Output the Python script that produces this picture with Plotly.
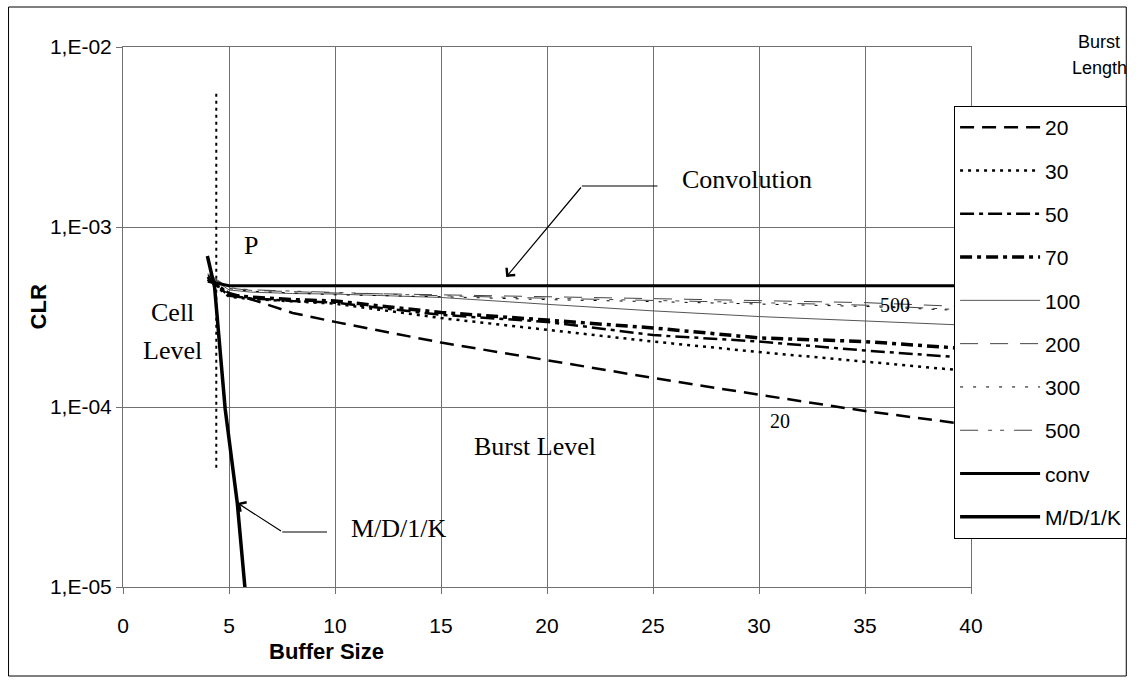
import plotly.graph_objects as go

# ---------------- data ----------------
buffer_size = [4, 5, 6, 8, 10, 15, 20, 25, 30, 35, 40]
clr_20 = [5.1e-4, 4.30e-4, 3.98e-4, 3.33e-4, 2.97e-4, 2.28e-4, 1.82e-4, 1.45e-4, 1.17e-4, 9.5e-5, 7.95e-5]
clr_30 = [5.1e-4, 4.10e-4, 3.98e-4, 3.85e-4, 3.75e-4, 3.12e-4, 2.68e-4, 2.31e-4, 2.02e-4, 1.78e-4, 1.58e-4]
clr_50 = [5.2e-4, 4.15e-4, 4.02e-4, 3.88e-4, 3.80e-4, 3.25e-4, 2.97e-4, 2.51e-4, 2.31e-4, 2.06e-4, 1.87e-4]
clr_70 = [5.3e-4, 4.20e-4, 4.08e-4, 3.95e-4, 3.88e-4, 3.35e-4, 3.04e-4, 2.75e-4, 2.42e-4, 2.31e-4, 2.10e-4]
clr_100 = [5.4e-4, 4.47e-4, 4.35e-4, 4.27e-4, 4.24e-4, 4.06e-4, 3.72e-4, 3.42e-4, 3.18e-4, 3.00e-4, 2.84e-4]
clr_200 = [5.4e-4, 4.58e-4, 4.45e-4, 4.36e-4, 4.30e-4, 4.20e-4, 4.08e-4, 4.00e-4, 3.90e-4, 3.80e-4, 3.60e-4]
clr_300 = [5.4e-4, 4.55e-4, 4.40e-4, 4.28e-4, 4.20e-4, 4.10e-4, 3.95e-4, 3.85e-4, 3.75e-4, 3.62e-4, 3.42e-4]
clr_500 = [5.5e-4, 4.60e-4, 4.48e-4, 4.40e-4, 4.35e-4, 4.15e-4, 4.02e-4, 3.92e-4, 3.80e-4, 3.68e-4, 3.45e-4]
clr_conv = [5.0e-4, 4.72e-4, 4.72e-4, 4.72e-4, 4.72e-4, 4.72e-4, 4.72e-4, 4.72e-4, 4.72e-4, 4.72e-4, 4.72e-4]

mdk_x = [3.98, 4.32, 4.82, 5.39, 5.84]
mdk_clr = [6.9e-4, 4.64e-4, 9.75e-5, 2.93e-5, 7.6e-6]

p_line_x = [4.4, 4.4]
p_line_clr = [5.5e-3, 4.6e-5]

x_ticks = [0, 5, 10, 15, 20, 25, 30, 35, 40]
y_tickvals = [1e-5, 1e-4, 1e-3, 1e-2]
y_ticktext = ["1,E-05", "1,E-04", "1,E-03", "1,E-02"]

series = [
    ("20", clr_20, dict(color="black", width=2.5, dash="14px,8px")),
    ("30", clr_30, dict(color="black", width=2.5, dash="3px,5px")),
    ("50", clr_50, dict(color="black", width=2.5, dash="14px,5px,4px,5px")),
    ("70", clr_70, dict(color="black", width=3.5, dash="12px,5px,4px,5px")),
    ("100", clr_100, dict(color="#555555", width=1)),
    ("200", clr_200, dict(color="#444444", width=1, dash="18px,12px")),
    ("300", clr_300, dict(color="black", width=1, dash="3px,10px")),
    ("500", clr_500, dict(color="#444444", width=1, dash="18px,10px,4px,8px,4px,10px")),
    ("conv", clr_conv, dict(color="black", width=3)),
]

fig = go.Figure()

fig.add_trace(go.Scatter(x=p_line_x, y=p_line_clr, mode="lines", showlegend=False,
                         line=dict(color="black", width=2, dash="3px,4px"), hoverinfo="skip"))

for name, vals, ln in series:
    fig.add_trace(go.Scatter(x=buffer_size, y=vals, mode="lines", name=name,
                             legendgroup=name, line=ln))

fig.add_trace(go.Scatter(x=mdk_x, y=mdk_clr, mode="lines", name="M/D/1/K",
                         legendgroup="mdk", line=dict(color="black", width=3.5)))

# ---------------- layout geometry ----------------
W, H = 1139, 684
L, R, T, B = 123, 975, 47, 587


def px(x):
    return (x - L) / (R - L)


def py(y):
    return (B - y) / (B - T)


serif = "Liberation Serif"
sans = "Liberation Sans"

annotations = []


def text(t, x, y, size=26, family=serif, bold=False, angle=0):
    annotations.append(dict(text=("<b>%s</b>" % t) if bold else t, x=px(x), y=py(y),
                            xref="paper", yref="paper", showarrow=False,
                            xanchor="center", yanchor="middle", textangle=angle,
                            font=dict(family=family, size=size, color="black")))


text("Convolution", 750, 179)
text("P", 252, 245)
text("Cell", 173, 312)
text("Level", 173, 350)
text("Burst Level", 537, 446)
text("M/D/1/K", 400, 528)
text("20", 783, 421, size=20)
text("500", 899, 305, size=20)
text("Burst", 1104, 42, size=18, family=sans)
text("Length", 1104, 68, size=18, family=sans)
text("CLR", 38, 307, size=22, family=sans, bold=True, angle=-90)
text("Buffer Size", 327, 651, size=22, family=sans, bold=True)


def arrow(tip, tail):
    annotations.append(dict(text="", x=px(tip[0]), y=py(tip[1]), xref="paper", yref="paper",
                            ax=tail[0] - tip[0], ay=tail[1] - tip[1], showarrow=True,
                            arrowhead=4, arrowsize=1.8, arrowwidth=1.2, arrowcolor="black",
                            standoff=0, startstandoff=0))


arrow((508, 277), (584, 186))
arrow((238, 503), (283, 532))

shapes = [
    dict(type="rect", xref="paper", yref="paper", x0=px(8), x1=px(1131), y0=py(676), y1=py(7),
         line=dict(color="black", width=1), layer="below"),
    dict(type="line", xref="paper", yref="paper", x0=px(584), x1=px(660), y0=py(186), y1=py(186),
         line=dict(color="black", width=1.2)),
    dict(type="line", xref="paper", yref="paper", x0=px(283), x1=px(328), y0=py(532), y1=py(532),
         line=dict(color="black", width=1.2)),
]

grid = "#707070"
fig.update_layout(
    width=W, height=H, autosize=False,
    margin=dict(l=L, r=W - R, t=T, b=H - B, pad=0),
    paper_bgcolor="white", plot_bgcolor="white",
    font=dict(family=sans, size=21, color="black"),
    xaxis=dict(range=[0, 40], tickvals=x_ticks, showgrid=True, gridcolor=grid, gridwidth=1,
               zeroline=False, showline=True, linecolor=grid, mirror=True,
               ticks="outside", ticklen=6, tickcolor=grid, ticklabelstandoff=14,
               tickfont=dict(family=sans, size=21, color="black")),
    yaxis=dict(type="log", range=[-5, -2], tickvals=y_tickvals, ticktext=y_ticktext,
               showgrid=True, gridcolor=grid, gridwidth=1, zeroline=False,
               showline=True, linecolor=grid, mirror=True,
               ticks="outside", ticklen=6, tickcolor=grid,
               tickfont=dict(family=sans, size=21, color="black")),
    legend=dict(x=px(958), y=py(106), xanchor="left", yanchor="top",
                bgcolor="white", bordercolor="black", borderwidth=1,
                font=dict(family=sans, size=21, color="black"),
                itemwidth=80, tracegroupgap=13, traceorder="grouped"),
    showlegend=True,
    annotations=annotations,
    shapes=shapes,
)

fig.write_html("out.html")
